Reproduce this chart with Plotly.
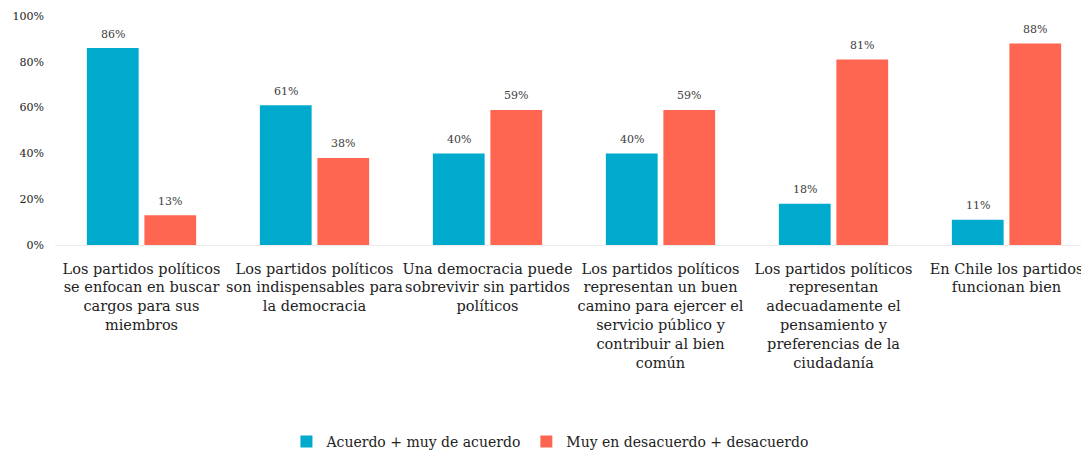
import plotly.graph_objects as go

categories = [
    "Los partidos políticos<br>se enfocan en buscar<br>cargos para sus<br>miembros",
    "Los partidos políticos<br>son indispensables para<br>la democracia",
    "Una democracia puede<br>sobrevivir sin partidos<br>políticos",
    "Los partidos políticos<br>representan un buen<br>camino para ejercer el<br>servicio público y<br>contribuir al bien<br>común",
    "Los partidos políticos<br>representan<br>adecuadamente el<br>pensamiento y<br>preferencias de la<br>ciudadanía",
    "En Chile los partidos<br>funcionan bien",
]
acuerdo = [86, 61, 40, 40, 18, 11]
desacuerdo = [13, 38, 59, 59, 81, 88]
series_names = ["Acuerdo + muy de acuerdo", "Muy en desacuerdo + desacuerdo"]
colors = ["#00AACD", "#FF6652"]

FONT = "DejaVu Serif"
BARGAP = 0.335
UNIT_PX = 173.0
slot_px = UNIT_PX * (1 - BARGAP) / 2

fig = go.Figure()
for i, (name, vals, col) in enumerate(zip(series_names, [acuerdo, desacuerdo], colors)):
    fig.add_trace(go.Bar(
        x=categories, y=vals, name=name,
        marker=dict(color=col, line=dict(width=0)),
    ))
    shift = (i - 0.5) * slot_px
    for c, v in zip(categories, vals):
        fig.add_annotation(
            x=c, y=v, text=f"{v}%", showarrow=False,
            xshift=shift, yshift=14, yanchor="middle",
            font=dict(family=FONT, size=11, color="#404040"),
        )

fig.update_layout(
    width=1089, height=455,
    margin=dict(l=47, r=0, t=8, b=218),
    paper_bgcolor="white", plot_bgcolor="white",
    barmode="group", bargap=BARGAP, bargroupgap=0.1,
    font=dict(family=FONT, color="#222222"),
    showlegend=True,
    legend=dict(orientation="h", x=0.475, xanchor="center", y=-0.86, yanchor="middle",
                font=dict(family=FONT, size=14, color="#222222"),
                itemwidth=30, traceorder="normal"),
)
fig.update_xaxes(
    type="category", range=[-0.5, 5.523],
    tickfont=dict(family=FONT, size=14.5, color="#222222"),
    showline=False, ticks="", showgrid=False, tickangle=0,
    ticklabelstandoff=13, automargin=False,
)
fig.update_yaxes(
    range=[0, 100], tickvals=[0, 20, 40, 60, 80, 100],
    ticktext=["0%", "20%", "40%", "60%", "80%", "100%"],
    tickfont=dict(family=FONT, size=11, color="#222222"),
    showgrid=False, zeroline=True, zerolinecolor="#EBEBEB", zerolinewidth=1,
    showline=False, ticks="", ticklabelstandoff=10, automargin=False,
)

fig.write_html("out.html")
